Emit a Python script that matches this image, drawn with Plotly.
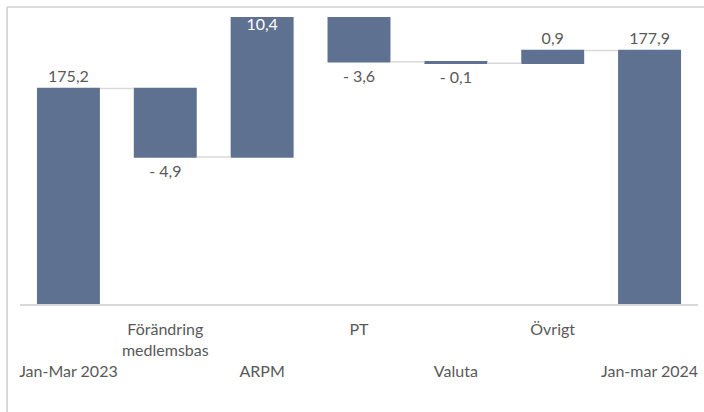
import plotly.graph_objects as go

categories = ["Jan-Mar 2023", "Förändring medlemsbas", "ARPM", "PT", "Valuta", "Övrigt", "Jan-mar 2024"]
tick_labels = ["<br><br>Jan-Mar 2023", "Förändring<br>medlemsbas", "<br><br>ARPM", "PT",
               "<br><br>Valuta", "Övrigt", "<br><br>Jan-mar 2024"]
values = [175.2, -4.9, 10.4, -3.6, -0.1, 0.9, 177.9]
measures = ["absolute", "relative", "relative", "relative", "relative", "relative", "total"]
label_positions = ["outside", "outside", "inside", "outside", "outside", "outside", "outside"]


def fmt(v):
    s = f"{abs(v):.1f}".replace(".", ",")
    return ("- " + s) if v < 0 else s


labels = [fmt(v) for v in values]

BAR = "#5E7190"
GRAY = "#595959"
FONT = "Lato"

fig = go.Figure(go.Waterfall(
    x=categories,
    y=values,
    measure=measures,
    text=labels,
    textposition=label_positions,
    insidetextanchor="end",
    insidetextfont=dict(color="white", size=16, family=FONT),
    outsidetextfont=dict(color=GRAY, size=16, family=FONT),
    increasing=dict(marker=dict(color=BAR)),
    decreasing=dict(marker=dict(color=BAR)),
    totals=dict(marker=dict(color=BAR)),
    connector=dict(mode="between", line=dict(color="#D9D9D9", width=1.5)),
    cliponaxis=True,
))

fig.update_layout(
    width=704, height=412,
    margin=dict(l=20, r=6, t=17, b=108),
    paper_bgcolor="white", plot_bgcolor="white",
    showlegend=False,
    waterfallgap=0.35,
    font=dict(family=FONT, size=16, color=GRAY),
    xaxis=dict(
        type="category",
        tickmode="array", tickvals=categories, ticktext=tick_labels,
        showgrid=False, zeroline=False,
        showline=True, linecolor="#D9D9D9", linewidth=1.5,
        ticks="", ticklabelstandoff=10,
        tickfont=dict(family=FONT, size=16, color=GRAY),
    ),
    yaxis=dict(range=[159.8, 180.3], visible=False, showgrid=False, zeroline=False),
    shapes=[
        dict(type="line", xref="paper", yref="paper", x0=-0.019, x1=1.02, y0=1.035, y1=1.035,
             layer="above", line=dict(color="#D0D0D0", width=1.5)),
        dict(type="line", xref="paper", yref="paper", x0=-0.019, x1=-0.019, y0=1.035, y1=-0.45,
             layer="above", line=dict(color="#D0D0D0", width=1.5)),
    ],
)

fig.write_html(
    "out.html",
    config={"displayModeBar": False},
    post_script="document.body.style.margin='0';document.body.style.overflow='hidden';",
)
